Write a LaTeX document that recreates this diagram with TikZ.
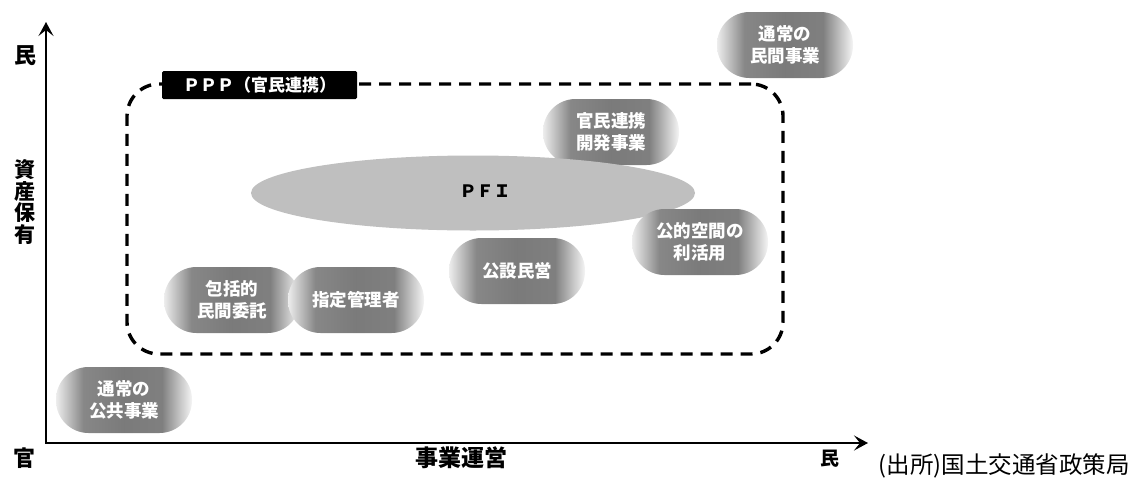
\documentclass[tikz,border=0pt]{standalone}
\usepackage{fontspec}
\setmainfont{Noto Sans CJK JP}
\usetikzlibrary{arrows.meta,shapes.geometric}
\pgfdeclarehorizontalshading{pillshade}{100bp}{color(0bp)=(black!7); color(25bp)=(black!7); color(35bp)=(black!47); color(50bp)=(black!52); color(64bp)=(black!50); color(75bp)=(black!4); color(100bp)=(black!4)}
\begin{document}
\begin{tikzpicture}[x=1pt,y=-1pt,
  pill/.style={rectangle, rounded corners=32.5pt, minimum width=136pt, minimum height=66pt,
    inner sep=0pt, shading=pillshade, text=white, align=center,
    font=\bfseries\fontsize{17.5}{22}\selectfont},
  frame/.style={draw=black, line width=3.4pt, dash pattern=on 12pt off 8pt, rounded corners=32pt,
    minimum width=656pt, minimum height=270pt, inner sep=0pt},
  tagbox/.style={fill=black, text=white, rounded corners=1.5pt, minimum width=195pt,
    minimum height=28pt, inner sep=0pt, font=\bfseries\fontsize{17}{18}\selectfont},
  pfishape/.style={ellipse, fill=black!25, minimum width=444pt, minimum height=75pt, inner sep=0pt},
  pfitext/.style={font=\bfseries\fontsize{17}{18}\selectfont, text=black},
  axisline/.style={line width=2pt, {Stealth[length=14pt,width=15pt,inset=6pt]}-{Stealth[length=14pt,width=15pt,inset=6pt]}},
  axlabel/.style={font=\bfseries\fontsize{23}{23}\selectfont, inner sep=0pt, align=center},
  srclabel/.style={font=\fontsize{23.5}{24}\selectfont, inner sep=0pt, anchor=east}]
\useasboundingbox (0,0) rectangle (1131,480);

% axes
\coordinate (ytip) at (46,22);
\coordinate (origin) at (46,443);
\coordinate (xtip) at (868,443);
\draw[axisline] (ytip) -- (origin) -- (xtip);

% axis labels
\node[axlabel, font=\bfseries\fontsize{22}{22}\selectfont] (ymin) at (25,56) {民};
\node[axlabel, font=\bfseries\fontsize{21}{21.8}\selectfont] (yname) at (25,202) {資\\産\\保\\有};
\node[axlabel, font=\bfseries\fontsize{22}{22}\selectfont] (kan) at (24,458) {官};
\node[axlabel] (xname) at (461,458) {事業運営};
\node[axlabel, font=\bfseries\fontsize{19}{20}\selectfont] (xmin) at (830,459) {民};
\node[srclabel] (src) at (1130,466) {(出所)国土交通省政策局};

% PPP frame
\node[frame] (frame) at (455,219) {};
\node[tagbox] (ppp) at (259.5,85) {ＰＰＰ（官民連携）};

% items
\node[pill] (kaihatsu) at (611,132) {官民連携\\開発事業};
\node[pfishape] (pfi) at (473,193) {};
\node[pfitext] (pfilabel) at (485,191) {ＰＦＩ};
\node[pill] (mincom) at (785,45) {通常の\\民間事業};
\node[pill] (kuukan) at (700,242) {公的空間の\\利活用};
\node[pill] (kousetsu) at (517,271) {公設民営};
\node[pill] (houkatsu) at (232,300) {包括的\\民間委託};
\node[pill] (shitei) at (356,300) {指定管理者};
\node[pill] (koukyou) at (124,400) {通常の\\公共事業};
\end{tikzpicture}
\end{document}
